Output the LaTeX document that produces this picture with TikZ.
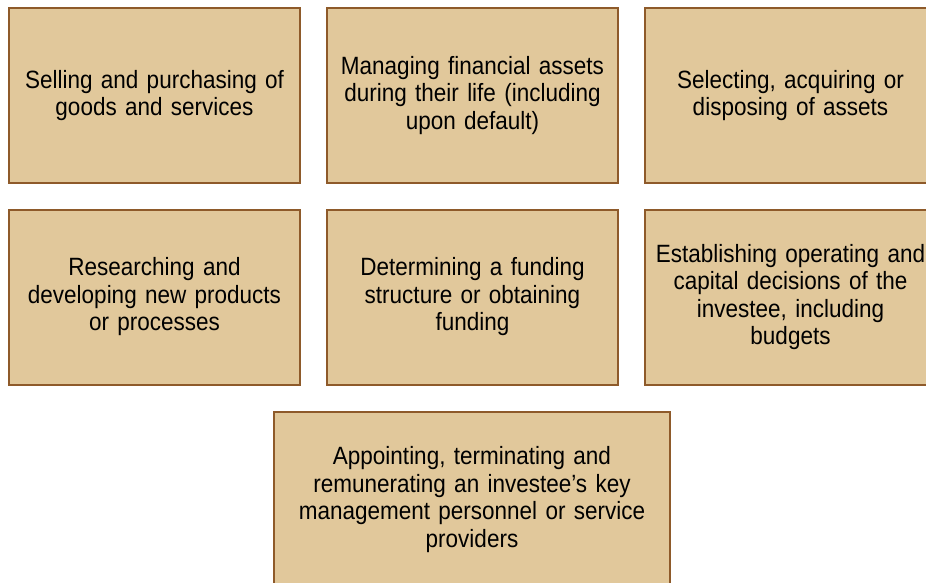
\documentclass[tikz,border=0pt]{standalone}
\usepackage{fontspec}
\setmainfont{Liberation Sans}[FakeStretch=0.9,WordSpace=0.85]
\definecolor{boxfill}{HTML}{E1C89B}
\definecolor{boxline}{HTML}{8E5A2A}
\tikzset{
  box/.style={draw=boxline, fill=boxfill, line width=2pt, minimum width=291pt, minimum height=175pt,
    inner sep=0pt, align=center, text width=291pt,
    font=\fontsize{25pt}{27.5pt}\selectfont}
}
\begin{document}
\begin{tikzpicture}[x=1pt,y=-1pt]
\useasboundingbox (0,0) rectangle (926,582);
\clip (0,0) rectangle (926,582);
\fill[white] (0,0) rectangle (926,582);
\node[box] (b1) at (154.5,95.5) {Selling and purchasing of\\goods and services};
\node[box] (b2) at (472.5,95.5) {Managing financial assets\\during their life (including\\upon default)};
\node[box] (b3) at (790.5,95.5) {Selecting, acquiring or\\disposing of assets};
\node[box] (b4) at (154.5,297) {Researching and\\developing new products\\or processes};
\node[box] (b5) at (472.5,297) {Determining a funding\\structure or obtaining\\funding};
\node[box] (b6) at (790.5,297) {Establishing operating and\\capital decisions of the\\investee, including\\budgets};
\node[box, minimum width=396pt, text width=396pt] (b7) at (472,499.5) {Appointing, terminating and\\remunerating an investee’s key\\management personnel or service\\providers};
\end{tikzpicture}
\end{document}
